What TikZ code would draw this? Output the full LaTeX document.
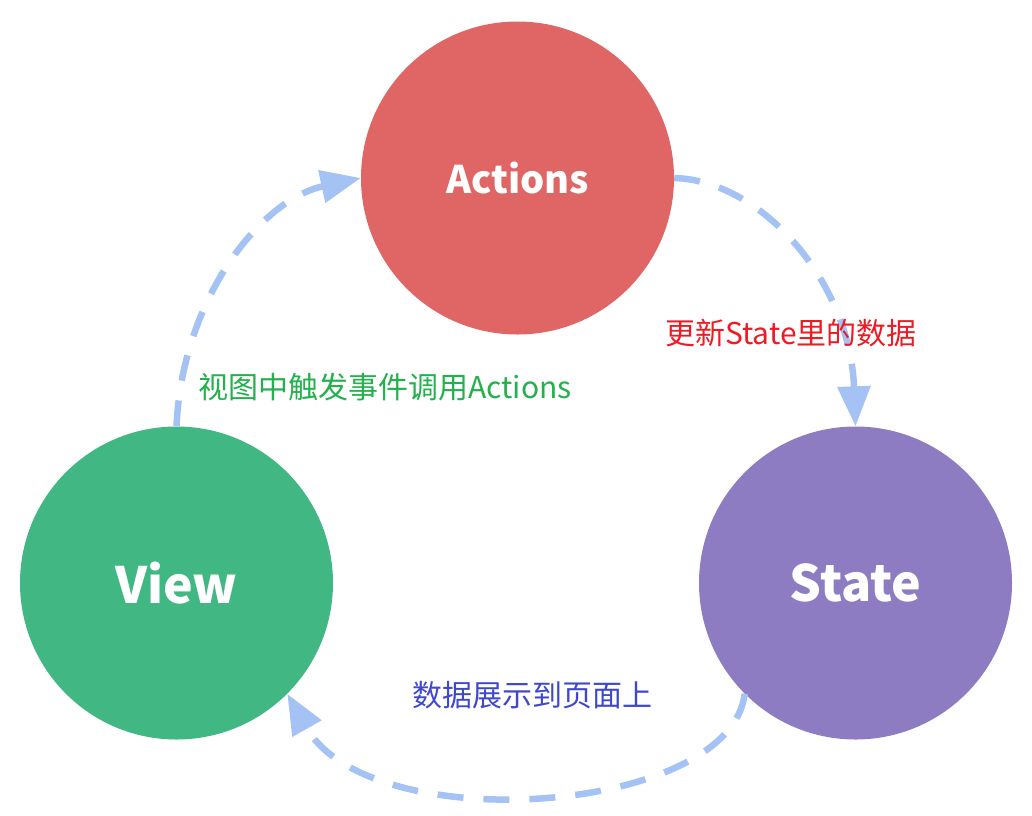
\documentclass[tikz,border=0pt]{standalone}
\usepackage{fontspec}
\setmainfont{Noto Sans CJK SC}
\usetikzlibrary{arrows.meta}
\definecolor{actc}{HTML}{E06666}
\definecolor{viewc}{HTML}{41B883}
\definecolor{statec}{HTML}{8E7CC3}
\definecolor{arrc}{HTML}{A4C2F4}
\definecolor{lgreen}{HTML}{22B14C}
\definecolor{lred}{HTML}{ED1C24}
\definecolor{lblue}{HTML}{3F48CC}
\tikzset{
  circ/.style={circle, minimum size=313pt, inner sep=0pt, text=white, font=\fontsize{50}{50}\selectfont\bfseries},
  flow/.style={draw=arrc, line width=6.5pt, dash pattern=on 26pt off 20pt, -{Triangle[length=40pt,width=32pt]}},
  lab/.style={inner sep=0pt, font=\fontsize{30}{30}\selectfont}
}
\begin{document}
\begin{tikzpicture}[x=1pt,y=-1pt]
\useasboundingbox (0,0) rectangle (1032,815);
\node[circ, fill=actc, font=\fontsize{38}{38}\selectfont\bfseries] (act) at (517.5,178) {Actions};
\node[circ, fill=viewc] (view) at (176.5,583) {View};
\node[circ, fill=statec] (state) at (855.5,583) {State};
\draw[flow] (view.north) .. controls (182,300) and (260,200) .. (act.west);
\draw[flow] (act.east) .. controls (760,180) and (850,280) .. (state.north);
\draw[flow] (state.225) .. controls (730,815) and (370,840) .. (view.315);
\node[lab, text=lgreen] (l1) at (385,387) {视图中触发事件调用Actions};
\node[lab, text=lred] (l2) at (791,333) {更新State里的数据};
\node[lab, text=lblue] (l3) at (532,695) {数据展示到页面上};
\end{tikzpicture}
\end{document}
